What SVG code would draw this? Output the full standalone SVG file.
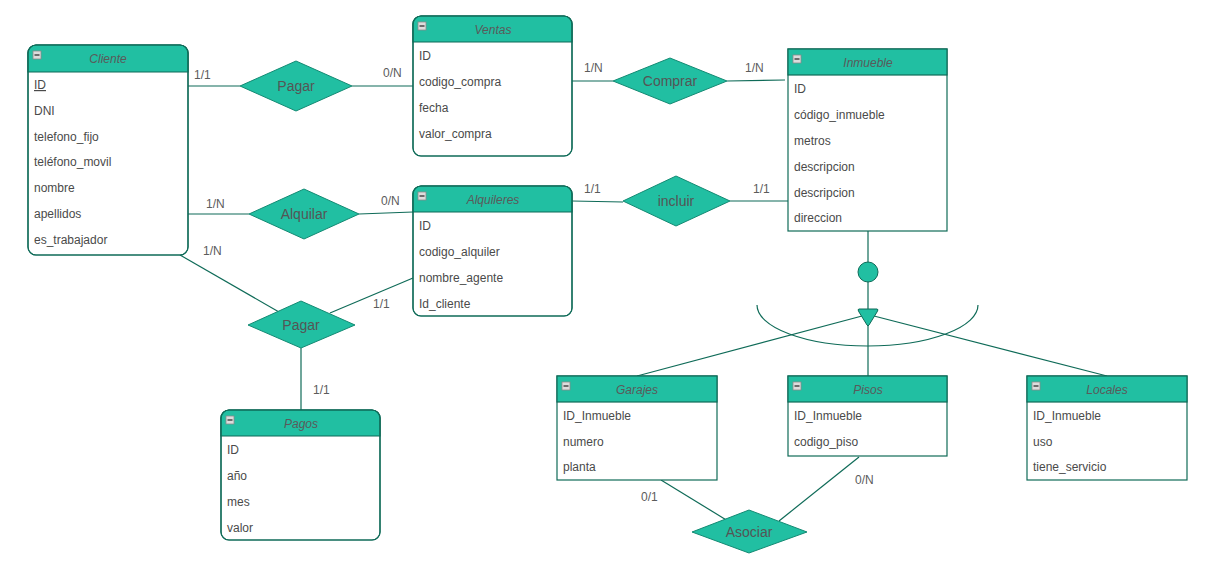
<svg xmlns="http://www.w3.org/2000/svg" width="1223" height="580" viewBox="0 0 1223 580">
<style>
.box{fill:#ffffff;stroke:#0f6b58;stroke-width:1.2}
.hdr{fill:#21bfa2;stroke:#0f6b58;stroke-width:1.2}
.out{fill:none;stroke:#0f6b58;stroke-width:1.2}
.title{font-family:"Liberation Sans",Arial,sans-serif;font-size:12px;font-style:italic;fill:#5a5a5a;text-anchor:middle}
.attr{font-family:"Liberation Sans",Arial,sans-serif;font-size:12px;fill:#4a4a4a}
.dia{fill:#21bfa2;stroke:#138a73;stroke-width:1}
.dlab{font-family:"Liberation Sans",Arial,sans-serif;font-size:14px;fill:#555555;text-anchor:middle}
.card{font-family:"Liberation Sans",Arial,sans-serif;font-size:12px;fill:#5b5b5b}
.ln{fill:none;stroke:#0f6b58;stroke-width:1.2}
.ico{fill:#dcdcdc;stroke:#8a8a8a;stroke-width:0.8}
.icl{stroke:#222;stroke-width:1.2}
</style>
<defs>
<g id="minus"><rect class="ico" x="0" y="0" width="8" height="8"/><line class="icl" x1="1.5" y1="4" x2="6.5" y2="4"/></g>
</defs>
<rect width="1223" height="580" fill="#ffffff"/>

<g id="connectors">
<line class="ln" x1="188" y1="86" x2="240" y2="86"/>
<line class="ln" x1="352" y1="86" x2="415" y2="86"/>
<line class="ln" x1="572" y1="81" x2="613" y2="81"/>
<line class="ln" x1="727" y1="81" x2="785" y2="80"/>
<line class="ln" x1="188" y1="214" x2="249" y2="214"/>
<line class="ln" x1="359" y1="214" x2="413" y2="212"/>
<line class="ln" x1="572" y1="201" x2="623" y2="202"/>
<line class="ln" x1="730" y1="201" x2="790" y2="201"/>
<line class="ln" x1="180" y1="255" x2="279" y2="312"/>
<line class="ln" x1="413" y1="278" x2="330" y2="313"/>
<line class="ln" x1="301" y1="348" x2="301" y2="410"/>
<line class="ln" x1="868" y1="231" x2="868" y2="310"/>
<line class="ln" x1="868" y1="316" x2="868" y2="376"/>
<line class="ln" x1="862" y1="316" x2="637" y2="376"/>
<line class="ln" x1="874" y1="316" x2="1107" y2="376"/>
<path class="ln" d="M757,305 A110.5,41 0 0 0 978,305"/>
<line class="ln" x1="661" y1="480" x2="728" y2="521"/>
<line class="ln" x1="859" y1="457" x2="779" y2="521"/>
<circle cx="868" cy="272" r="10" fill="#21bfa2" stroke="#0f6b58" stroke-width="1"/>
<path d="M859,309 H877 Q879,309 877,312 L869,325 Q868,327 867,325 L859,312 Q857,309 859,309 Z" fill="#21bfa2" stroke="#0f6b58" stroke-width="1"/>
<text class="card" x="194" y="79">1/1</text>
<text class="card" x="383" y="77">0/N</text>
<text class="card" x="584" y="72">1/N</text>
<text class="card" x="745" y="72">1/N</text>
<text class="card" x="206" y="208">1/N</text>
<text class="card" x="381" y="205">0/N</text>
<text class="card" x="584" y="193">1/1</text>
<text class="card" x="753" y="193">1/1</text>
<text class="card" x="203" y="255">1/N</text>
<text class="card" x="373" y="308">1/1</text>
<text class="card" x="313" y="394">1/1</text>
<text class="card" x="641" y="501">0/1</text>
<text class="card" x="855" y="484">0/N</text>
</g>

<g id="rel-pagar1"><polygon class="dia" points="240,86 296,61 352,86 296,111"/><text class="dlab" x="296" y="91">Pagar</text></g>
<g id="rel-comprar"><polygon class="dia" points="613,81 670,58 727,81 670,104"/><text class="dlab" x="670" y="86">Comprar</text></g>
<g id="rel-alquilar"><polygon class="dia" points="249,214 304,189 359,214 304,239"/><text class="dlab" x="304" y="219">Alquilar</text></g>
<g id="rel-incluir"><polygon class="dia" points="623,201 676,176 730,201 676,226"/><text class="dlab" x="676" y="206">incluir</text></g>
<g id="rel-pagar2"><polygon class="dia" points="248,325 301,301 355,325 301,348"/><text class="dlab" x="301" y="330">Pagar</text></g>
<g id="rel-asociar"><polygon class="dia" points="692,532 749,510 807,532 749,553"/><text class="dlab" x="749" y="537">Asociar</text></g>

<g id="cliente" transform="translate(28,45)">
<rect class="box" width="160" height="210" rx="8"/>
<path class="hdr" d="M0,27 V8 A8,8 0 0 1 8,0 H152 A8,8 0 0 1 160,8 V27 Z"/>
<use href="#minus" x="5" y="6"/>
<text class="title" x="80" y="18">Cliente</text>
<text class="attr" x="6" y="44" text-decoration="underline">ID</text>
<text class="attr" x="6" y="70">DNI</text>
<text class="attr" x="6" y="96">telefono_fijo</text>
<text class="attr" x="6" y="121">teléfono_movil</text>
<text class="attr" x="6" y="147">nombre</text>
<text class="attr" x="6" y="173">apellidos</text>
<text class="attr" x="6" y="199">es_trabajador</text>
<rect class="out" width="160" height="210" rx="8"/>
</g>

<g id="ventas" transform="translate(413,16)">
<rect class="box" width="159" height="140" rx="8"/>
<path class="hdr" d="M0,26 V8 A8,8 0 0 1 8,0 H151 A8,8 0 0 1 159,8 V26 Z"/>
<use href="#minus" x="5" y="6"/>
<text class="title" x="80" y="18">Ventas</text>
<text class="attr" x="6" y="44">ID</text>
<text class="attr" x="6" y="70">codigo_compra</text>
<text class="attr" x="6" y="96">fecha</text>
<text class="attr" x="6" y="122">valor_compra</text>
<rect class="out" width="159" height="140" rx="8"/>
</g>

<g id="inmueble" transform="translate(788,49)">
<rect class="box" width="159" height="182"/>
<rect class="hdr" width="159" height="26"/>
<use href="#minus" x="5" y="6"/>
<text class="title" x="80" y="18">Inmueble</text>
<text class="attr" x="6" y="44">ID</text>
<text class="attr" x="6" y="70">código_inmueble</text>
<text class="attr" x="6" y="96">metros</text>
<text class="attr" x="6" y="122">descripcion</text>
<text class="attr" x="6" y="148">descripcion</text>
<text class="attr" x="6" y="173">direccion</text>
</g>

<g id="alquileres" transform="translate(413,186)">
<rect class="box" width="159" height="130" rx="8"/>
<path class="hdr" d="M0,26 V8 A8,8 0 0 1 8,0 H151 A8,8 0 0 1 159,8 V26 Z"/>
<use href="#minus" x="5" y="6"/>
<text class="title" x="80" y="18">Alquileres</text>
<text class="attr" x="6" y="44">ID</text>
<text class="attr" x="6" y="70">codigo_alquiler</text>
<text class="attr" x="6" y="96">nombre_agente</text>
<text class="attr" x="6" y="122">Id_cliente</text>
<rect class="out" width="159" height="130" rx="8"/>
</g>

<g id="pagos" transform="translate(221,410)">
<rect class="box" width="159" height="130" rx="8"/>
<path class="hdr" d="M0,26 V8 A8,8 0 0 1 8,0 H151 A8,8 0 0 1 159,8 V26 Z"/>
<use href="#minus" x="5" y="6"/>
<text class="title" x="80" y="18">Pagos</text>
<text class="attr" x="6" y="44">ID</text>
<text class="attr" x="6" y="70">año</text>
<text class="attr" x="6" y="96">mes</text>
<text class="attr" x="6" y="122">valor</text>
<rect class="out" width="159" height="130" rx="8"/>
</g>

<g id="garajes" transform="translate(557,376)">
<rect class="box" width="160" height="104"/>
<rect class="hdr" width="160" height="26"/>
<use href="#minus" x="5" y="6"/>
<text class="title" x="80" y="18">Garajes</text>
<text class="attr" x="6" y="44">ID_Inmueble</text>
<text class="attr" x="6" y="70">numero</text>
<text class="attr" x="6" y="95">planta</text>
</g>

<g id="pisos" transform="translate(788,376)">
<rect class="box" width="159" height="80"/>
<rect class="hdr" width="159" height="26"/>
<use href="#minus" x="5" y="6"/>
<text class="title" x="80" y="18">Pisos</text>
<text class="attr" x="6" y="44">ID_Inmueble</text>
<text class="attr" x="6" y="70">codigo_piso</text>
</g>

<g id="locales" transform="translate(1027,376)">
<rect class="box" width="160" height="104"/>
<rect class="hdr" width="160" height="26"/>
<use href="#minus" x="5" y="6"/>
<text class="title" x="80" y="18">Locales</text>
<text class="attr" x="6" y="44">ID_Inmueble</text>
<text class="attr" x="6" y="70">uso</text>
<text class="attr" x="6" y="95">tiene_servicio</text>
</g>
</svg>
